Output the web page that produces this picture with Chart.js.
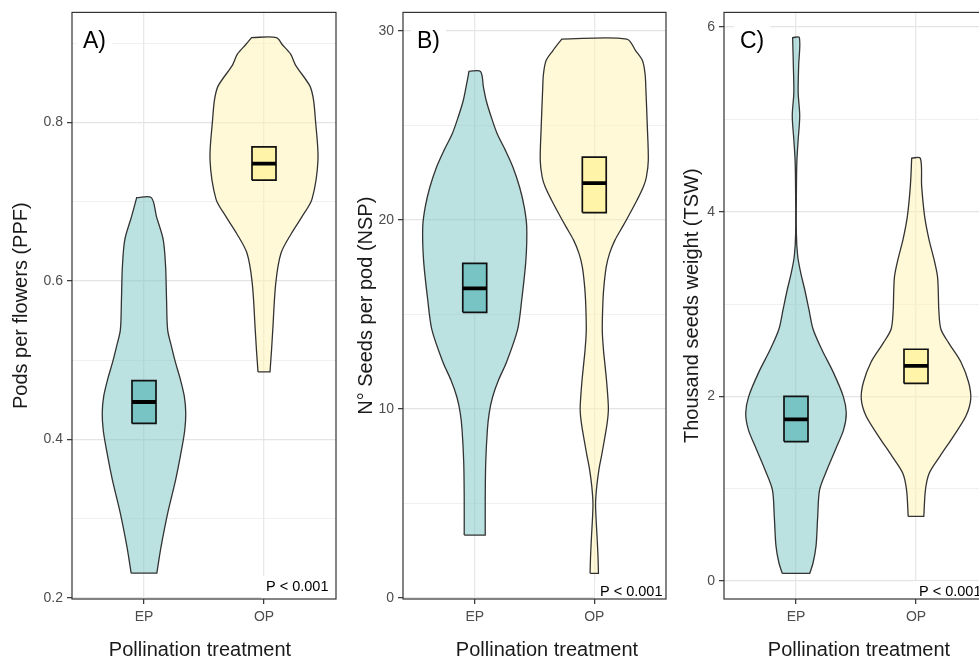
<!DOCTYPE html>
<html>
<head>
<meta charset="utf-8">
<script src="https://cdn.jsdelivr.net/npm/chart.js@4/dist/chart.umd.min.js"></script>
<style>
html, body { margin:0; padding:0; background:#ffffff; width:979px; height:659px; overflow:hidden; position:relative; }
canvas { position:absolute; top:0; }
</style>
</head>
<body>
<canvas id="cA" width="338" height="659" style="left:0px"></canvas>
<canvas id="cB" width="328" height="659" style="left:340px"></canvas>
<canvas id="cC" width="320" height="659" style="left:670px"></canvas>
<script>
// ---------------- data ----------------
const categories = ['EP', 'OP'];
const categoryPositions = [1, 2];
const xTitle = 'Pollination treatment';
const pLabel = 'P < 0.001';

// Panel A: pods per flowers (PPF)
const ppfTicks = [0.2, 0.4, 0.6, 0.8];
const ppfTickLabels = ['0.2', '0.4', '0.6', '0.8'];
const ppfMinorTicks = [0.3, 0.5, 0.7, 0.9];
const ppfEpLevels = [0.231, 0.264, 0.307, 0.349, 0.391, 0.412, 0.433, 0.454, 0.475, 0.496, 0.517, 0.538, 0.576, 0.618, 0.652, 0.681, 0.705];
const ppfEpWidths = [0.107, 0.142, 0.198, 0.264, 0.318, 0.340, 0.348, 0.336, 0.304, 0.264, 0.229, 0.197, 0.188, 0.180, 0.160, 0.104, 0.061];
const ppfOpLevels = [0.485, 0.513, 0.538, 0.597, 0.635, 0.660, 0.681, 0.703, 0.753, 0.804, 0.829, 0.846, 0.872, 0.886, 0.898, 0.907];
const ppfOpWidths = [0.050, 0.063, 0.073, 0.098, 0.142, 0.229, 0.317, 0.400, 0.450, 0.428, 0.412, 0.382, 0.264, 0.222, 0.153, 0.104];
const ppfEpBox = [0.420, 0.447, 0.474];   // lower, median, upper
const ppfOpBox = [0.727, 0.748, 0.769];

// Panel B: seeds per pod (NSP)
const nspTicks = [0, 10, 20, 30];
const nspTickLabels = ['0', '10', '20', '30'];
const nspMinorTicks = [5, 15, 25];
const nspEpLevels = [3.31, 5.36, 7.15, 8.89, 9.77, 10.63, 11.53, 12.43, 14.17, 15.75, 17.86, 19.62, 20.68, 21.73, 22.79, 23.67, 24.55, 25.42, 26.31, 27.01, 27.85];
const nspEpWidths = [0.088, 0.088, 0.092, 0.106, 0.121, 0.150, 0.200, 0.264, 0.358, 0.393, 0.428, 0.435, 0.414, 0.375, 0.319, 0.257, 0.188, 0.139, 0.096, 0.073, 0.048];
const nspOpLevels = [1.29, 2.21, 3.26, 4.32, 5.02, 5.90, 6.78, 7.48, 8.36, 9.25, 9.95, 10.65, 11.53, 12.41, 13.11, 14.17, 15.75, 16.63, 17.51, 18.22, 18.92, 19.62, 20.33, 21.03, 21.73, 22.26, 23.14, 24.90, 27.01, 27.71, 28.42, 28.94, 29.56];
const nspOpWidths = [0.035, 0.031, 0.023, 0.014, 0.011, 0.021, 0.039, 0.060, 0.085, 0.108, 0.118, 0.113, 0.102, 0.088, 0.077, 0.067, 0.073, 0.083, 0.100, 0.128, 0.173, 0.236, 0.298, 0.357, 0.410, 0.436, 0.452, 0.444, 0.431, 0.425, 0.403, 0.347, 0.272];
const nspEpBox = [15.10, 16.37, 17.69];
const nspOpBox = [20.38, 21.94, 23.31];

// Panel C: thousand seeds weight (TSW)
const tswTicks = [0, 2, 4, 6];
const tswTickLabels = ['0', '2', '4', '6'];
const tswMinorTicks = [1, 3, 5];
const tswEpLevels = [0.082, 0.195, 0.38, 0.70, 0.99, 1.21, 1.43, 1.64, 1.82, 2.00, 2.26, 2.51, 2.73, 2.94, 3.16, 3.34, 3.52, 3.77, 4.32, 4.57, 4.78, 5.04, 5.29, 5.58, 5.886];
const tswEpWidths = [0.114, 0.142, 0.167, 0.181, 0.197, 0.260, 0.331, 0.397, 0.419, 0.394, 0.311, 0.214, 0.142, 0.108, 0.072, 0.039, 0.014, 0.003, 0.004, 0.008, 0.018, 0.031, 0.018, 0.022, 0.028];
const tswOpLevels = [0.70, 0.99, 1.17, 1.35, 1.57, 1.79, 1.97, 2.15, 2.37, 2.58, 2.73, 2.94, 3.12, 3.30, 3.48, 3.70, 3.95, 4.28, 4.58];
const tswOpWidths = [0.065, 0.079, 0.111, 0.199, 0.313, 0.417, 0.456, 0.439, 0.375, 0.272, 0.207, 0.190, 0.186, 0.179, 0.151, 0.108, 0.072, 0.047, 0.036];
const tswEpBox = [1.51, 1.75, 2.00];
const tswOpBox = [2.14, 2.33, 2.51];

// ---------------- styling / layout ----------------
const FONT = '"Liberation Sans", Arial, Helvetica, sans-serif';
Chart.defaults.font.family = FONT;
const EP_VIOLIN = 'rgba(120,196,196,0.5)';
const OP_VIOLIN = 'rgba(255,243,176,0.5)';
const EP_BOX = '#78c4c4';
const OP_BOX = '#fff4a8';
const BOX_HALF = 0.1;

function violinPoints(center, levels, widths) {
  const left = levels.map((y, i) => ({x: center - widths[i], y}));
  const right = levels.map((y, i) => ({x: center + widths[i], y})).reverse();
  // corners duplicated so that the flat ends stay sharp with curve tension
  return [...left, left[left.length - 1], ...right, right[right.length - 1], left[0]];
}
function boxPoints(center, box) {
  return [
    {x: center - BOX_HALF, y: box[0]}, {x: center - BOX_HALF, y: box[2]},
    {x: center + BOX_HALF, y: box[2]}, {x: center + BOX_HALF, y: box[0]},
    {x: center - BOX_HALF, y: box[0]}
  ];
}
function medianPoints(center, box) {
  return [{x: center - BOX_HALF, y: box[1]}, {x: center + BOX_HALF, y: box[1]}];
}
function buildDatasets(groups) {
  const ds = [];
  groups.forEach((g, i) => {
    const c = categoryPositions[i];
    ds.push({data: violinPoints(c, g.levels, g.widths), borderColor: '#333333', borderWidth: 1.3,
      backgroundColor: g.violin, fill: 'shape', tension: 0.3, pointRadius: 0, order: 3});
  });
  groups.forEach((g, i) => {
    const c = categoryPositions[i];
    ds.push({data: boxPoints(c, g.box), borderColor: '#111111', borderWidth: 1.7,
      backgroundColor: g.boxFill, fill: 'shape', tension: 0, pointRadius: 0, order: 2});
    ds.push({data: medianPoints(c, g.box), borderColor: '#000000', borderWidth: 3.8,
      fill: false, tension: 0, pointRadius: 0, borderCapStyle: 'butt', order: 1});
  });
  return ds;
}

const panels = [
  { id: 'cA', left: 0, yWidth: 72, titlePad: 11, yTitle: 'Pods per flowers (PPF)',
    yMin: 0.1983, yMax: 0.9388, ticks: ppfTicks, labels: ppfTickLabels, minor: ppfMinorTicks,
    groups: [
      {levels: ppfEpLevels, widths: ppfEpWidths, box: ppfEpBox, violin: EP_VIOLIN, boxFill: EP_BOX},
      {levels: ppfOpLevels, widths: ppfOpWidths, box: ppfOpBox, violin: OP_VIOLIN, boxFill: OP_BOX}],
    letter: 'A)', letterX: 83, pX: 266, pBase: 591, xTitleX: 200 },
  { id: 'cB', left: 340, yWidth: 63, titlePad: 16, yTitle: 'N° Seeds per pod (NSP)',
    yMin: -0.07, yMax: 30.97, ticks: nspTicks, labels: nspTickLabels, minor: nspMinorTicks,
    groups: [
      {levels: nspEpLevels, widths: nspEpWidths, box: nspEpBox, violin: EP_VIOLIN, boxFill: EP_BOX},
      {levels: nspOpLevels, widths: nspOpWidths, box: nspOpBox, violin: OP_VIOLIN, boxFill: OP_BOX}],
    letter: 'B)', letterX: 417, pX: 600, pBase: 596, xTitleX: 547 },
  { id: 'cC', left: 670, yWidth: 54, titlePad: 12, yTitle: 'Thousand seeds weight (TSW)',
    yMin: -0.195, yMax: 6.159, ticks: tswTicks, labels: tswTickLabels, minor: tswMinorTicks,
    groups: [
      {levels: tswEpLevels, widths: tswEpWidths, box: tswEpBox, violin: EP_VIOLIN, boxFill: EP_BOX},
      {levels: tswOpLevels, widths: tswOpWidths, box: tswOpBox, violin: OP_VIOLIN, boxFill: OP_BOX}],
    letter: 'C)', letterX: 740, pX: 919, pBase: 596, xTitleX: 859 }
];

const decor = {
  id: 'decor',
  afterDatasetsDraw(chart, args, opts) {
    const p = opts.panel;
    if (!p) return;
    const {ctx, chartArea: a} = chart;
    ctx.save();
    // panel letter
    ctx.font = '23px ' + FONT;
    ctx.textAlign = 'left';
    ctx.textBaseline = 'alphabetic';
    const lx = p.letterX - p.left;
    const lw = ctx.measureText(p.letter).width;
    ctx.fillStyle = '#ffffff';
    ctx.fillRect(lx - 6, 25, lw + 12, 31);
    ctx.fillStyle = '#000000';
    ctx.fillText(p.letter, lx, 48);
    // p value
    ctx.font = '14.5px ' + FONT;
    const px = p.pX - p.left;
    ctx.fillStyle = '#ffffff';
    ctx.fillRect(px - 5, p.pBase - 15, a.right - px + 5, a.bottom - (p.pBase - 15));
    ctx.fillStyle = '#000000';
    ctx.fillText(pLabel, px, p.pBase);
    // panel border
    ctx.strokeStyle = '#333333';
    ctx.lineWidth = 1.2;
    ctx.strokeRect(a.left, a.top, a.right - a.left, a.bottom - a.top);
    // x axis title
    ctx.font = '20px ' + FONT;
    ctx.textAlign = 'center';
    ctx.fillStyle = '#1a1a1a';
    ctx.fillText(xTitle, p.xTitleX - p.left, 656);
    ctx.restore();
  }
};

panels.forEach(p => {
  const isMajor = v => p.ticks.some(t => Math.abs(t - v) < 1e-9);
  new Chart(document.getElementById(p.id), {
    type: 'line',
    data: {datasets: buildDatasets(p.groups)},
    options: {
      responsive: false,
      animation: false,
      events: [],
      layout: {padding: {top: 12, right: 2, left: 0, bottom: 0}},
      plugins: {legend: {display: false}, tooltip: {enabled: false}, decor: {panel: p}},
      scales: {
        x: {
          type: 'linear', min: 0.4, max: 2.6,
          afterBuildTicks: s => { s.ticks = categoryPositions.map(v => ({value: v})); },
          afterFit: s => { s.height = 60; },
          ticks: {
            callback: v => categories[categoryPositions.indexOf(v)],
            color: '#4d4d4d', font: {size: 14}, padding: 5, maxRotation: 0, autoSkip: false
          },
          grid: {color: '#e8e8e8', lineWidth: 1.3, tickLength: 5, tickColor: '#333333', tickWidth: 1.2},
          border: {display: false},
          title: {display: false}
        },
        y: {
          type: 'linear', min: p.yMin, max: p.yMax,
          afterBuildTicks: s => {
            s.ticks = [...p.ticks, ...p.minor].sort((a, b) => a - b).map(v => ({value: v}));
          },
          afterFit: s => { s.width = p.yWidth; },
          ticks: {
            callback: v => { const i = p.ticks.findIndex(t => Math.abs(t - v) < 1e-9); return i >= 0 ? p.labels[i] : ''; },
            color: '#4d4d4d', font: {size: 14}, padding: 4, autoSkip: false
          },
          grid: {
            color: c => (c.tick && isMajor(c.tick.value)) ? '#e4e4e4' : '#eeeeee',
            lineWidth: c => (c.tick && isMajor(c.tick.value)) ? 1.3 : 0.9,
            tickColor: c => (c.tick && isMajor(c.tick.value)) ? '#333333' : 'rgba(0,0,0,0)',
            tickLength: 5, tickWidth: 1.2
          },
          border: {display: false},
          title: {
            display: true, text: p.yTitle, color: '#1a1a1a',
            font: {size: 20, lineHeight: 1}, padding: {top: p.titlePad, bottom: 0}
          }
        }
      }
    },
    plugins: [decor]
  });
});
</script>
</body>
</html>
